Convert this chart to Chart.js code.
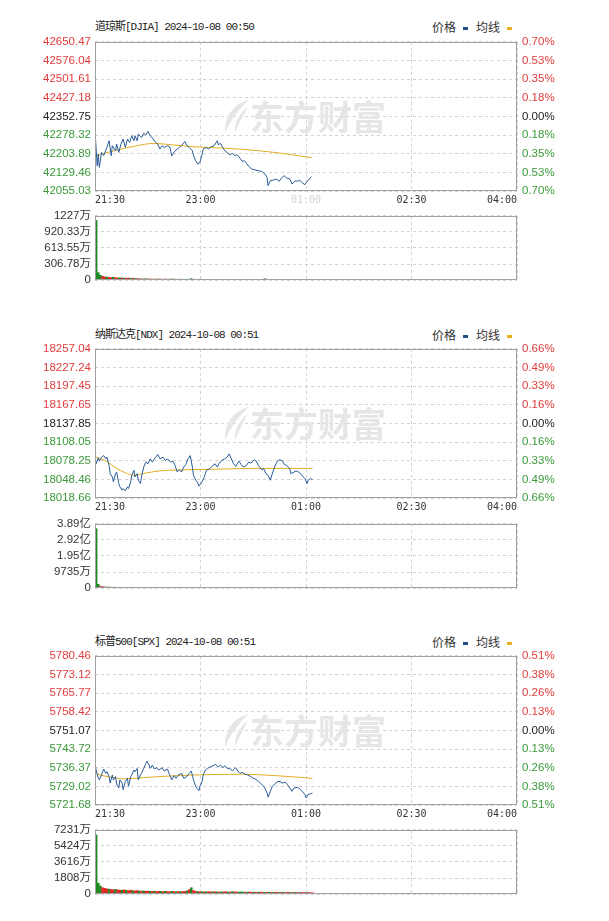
<!DOCTYPE html>
<html>
<head>
<meta charset="utf-8">
<script src="https://cdn.jsdelivr.net/npm/chart.js@4.4.1/dist/chart.umd.min.js"></script>
<style>
  body { margin: 0; background: #fff; width: 609px; height: 921px; position: relative; overflow: hidden; }
  canvas { position: absolute; left: 0; }
  .ttl { position: absolute; left: 95px; font: 11px "Liberation Mono", "Noto Sans CJK SC"; letter-spacing: -1px; color: #222; line-height: 14px; white-space: nowrap; }
  .lgd { position: absolute; right: 97px; font: 12px "Noto Sans CJK SC"; color: #333; line-height: 14px; white-space: nowrap; }
  .lgd i { display: inline-block; width: 5px; height: 3px; vertical-align: middle; margin: 0 8px 0 7px; }
  .lgd i.last { margin-right: 0; }
</style>
</head>
<body>

<div class="ttl" style="top:20px">道琼斯[DJIA] 2024-10-08 00:50</div>
<div class="lgd" style="top:20px">价格<i style="background:#1f4f86"></i>均线<i class="last" style="background:#e8b020"></i></div>
<canvas id="p1" width="609" height="181" style="top:30px"></canvas>
<canvas id="v1" width="609" height="86" style="top:205px"></canvas>

<div class="ttl" style="top:328px">纳斯达克[NDX] 2024-10-08 00:51</div>
<div class="lgd" style="top:328px">价格<i style="background:#1f4f86"></i>均线<i class="last" style="background:#e8b020"></i></div>
<canvas id="p2" width="609" height="181" style="top:337px"></canvas>
<canvas id="v2" width="609" height="86" style="top:513px"></canvas>

<div class="ttl" style="top:635px">标普500[SPX] 2024-10-08 00:51</div>
<div class="lgd" style="top:635px">价格<i style="background:#1f4f86"></i>均线<i class="last" style="background:#e8b020"></i></div>
<canvas id="p3" width="609" height="181" style="top:644px"></canvas>
<canvas id="v3" width="609" height="86" style="top:819px"></canvas>

<script>
// time axis: 390 trading minutes, 21:30 -> 04:00
const timeLabels = ["21:30", "23:00", "01:00", "02:30", "04:00"];
const timeTicks = [0, 97.5, 195, 292.5, 390];

// ---- 道琼斯 ----
const djiaMin = [0,2,3,4,6,8,11,13,15,16,19,20,22,24,26,28,30,32,34,36,37,39,40,43,45,47,49,51,53,56,58,60,62,64,67,69,71,74,76,78,80,83,85,87,90,91,93,95,97,99,100,103,105,107,110,113,114,116,118,120,123,125,127,129,131,133,136,138,140,143,145,148,151,154,157,159,160,162,165,168,170,173,175,177,180,182,185,187,189,191,194,196,198,200];
const djiaPrice = [42295.6,42156.0,42202.6,42149.4,42209.2,42195.9,42229.1,42255.7,42195.9,42235.8,42215.8,42242.4,42209.2,42242.4,42262.4,42229.1,42262.4,42249.1,42275.7,42255.7,42275.7,42255.7,42282.3,42269.0,42285.0,42279.6,42292.9,42275.7,42266.4,42249.1,42242.4,42222.5,42235.8,42229.1,42235.8,42231.8,42195.9,42215.8,42222.5,42229.1,42235.8,42253.1,42235.8,42229.1,42215.8,42195.9,42176.0,42162.7,42169.3,42202.6,42222.5,42229.1,42222.5,42231.8,42235.8,42255.7,42239.8,42245.1,42229.1,42215.8,42205.2,42199.9,42205.2,42195.9,42199.9,42191.9,42173.3,42176.0,42165.3,42149.4,42142.7,42138.8,42136.1,42133.5,42122.8,42109.5,42076.3,42096.2,42098.9,42102.9,42093.6,42109.5,42116.2,42106.9,42102.9,42082.9,42096.2,42093.6,42098.9,42089.6,42080.3,42093.6,42102.9,42112.2];
const djiaAvgMin = [1,6,15,28,40,54,70,90,120,151,182,200];
const djiaAvg = [42196,42203,42213,42226,42237,42245,42240,42232,42226,42216,42200,42188];
const djiaLeft = ["42055.03","42129.46","42203.89","42278.32","42352.75","42427.18","42501.61","42576.04","42650.47"];
const djiaRight = ["0.70%","0.53%","0.35%","0.18%","0.00%","0.18%","0.35%","0.53%","0.70%"];
const djiaVolMax = 1227;
const djiaVolLabels = ["0","306.78万","613.55万","920.33万","1227万"];
const djiaVol = [1140,142,92,72,62,58,52,48,55,46,42,44,40,38,35,40,32,35,30,28,25,24,22,26,20,22,18,20,19,21,18,17,20,16,18,22,17,16,15,18,16,15,17,14,28,16,15,14,17,13,15,14,16,13,14,15,13,12,14,13,15,14,13,12,14,12,13,15,12,11,13,12,14,11,12,13,12,11,26,14,12,11,13,12,11,12,10,13,11,12,11,10,12,11,13,10,11,12,10,11,9];
const djiaVolDir = "gggrrgrrgrrgrgrrgrgrrgrgrrgrgrgrrgrgggrgrrgrgrrgrgrgrrgrgrgrrgggrgrrgrrgrgrgrrgrgrrgrgrgrrgrgrrgrgrgr";

// ---- 纳斯达克 ----
const ndxMin = [0,1,3,4,6,8,10,11,13,14,16,17,19,20,22,23,25,26,28,30,31,33,34,36,37,39,40,42,43,45,47,49,51,53,56,58,60,63,65,67,70,72,74,76,78,80,82,84,86,88,90,91,93,95,96,99,101,103,106,108,111,113,115,117,120,122,124,126,128,130,133,135,137,140,142,144,147,149,151,154,156,158,160,162,164,166,168,170,173,175,177,180,181,184,186,188,190,192,194,196,197,199,201];
const ndxPrice = [18078.6,18073.4,18082.9,18077.6,18083.9,18086.5,18081.3,18083.9,18070.8,18057.6,18052.3,18044.4,18057.6,18060.2,18041.8,18036.6,18031.3,18033.9,18030.2,18036.6,18033.9,18044.4,18055.0,18062.9,18052.3,18057.6,18047.1,18041.8,18052.3,18068.1,18076.0,18073.4,18081.3,18076.0,18083.9,18088.1,18081.3,18083.9,18078.6,18081.3,18076.0,18077.6,18070.8,18060.2,18063.9,18060.2,18068.1,18072.3,18081.3,18086.5,18068.1,18055.0,18047.1,18042.9,18037.6,18044.4,18052.3,18062.9,18065.5,18069.2,18073.4,18068.1,18074.4,18078.6,18081.3,18083.9,18089.2,18081.3,18073.4,18069.2,18077.6,18072.3,18068.1,18070.8,18076.0,18074.4,18079.7,18077.6,18070.8,18063.9,18065.5,18057.6,18055.0,18047.1,18058.6,18068.1,18076.0,18079.7,18078.6,18072.3,18070.8,18065.5,18057.6,18060.2,18061.8,18060.2,18057.6,18053.4,18049.7,18041.8,18047.1,18049.7,18048.1];
const ndxAvgMin = [1,10,20,28,36,45,60,90,120,150,201];
const ndxAvg = [18084,18078,18066,18059,18055,18058,18062,18064,18065,18066,18066];
const ndxLeft = ["18018.66","18048.46","18078.25","18108.05","18137.85","18167.65","18197.45","18227.24","18257.04"];
const ndxRight = ["0.66%","0.49%","0.33%","0.16%","0.00%","0.16%","0.33%","0.49%","0.66%"];
const ndxVolMax = 38900;
const ndxVolLabels = ["0","9735万","1.95亿","2.92亿","3.89亿"];
const ndxVol = [36000,2290,1000,850,700,650,600,550,500,520,480,450,420,400,380,420,390,360,350,340,330,320,350,310,300,320,290,300,280,290,270,300,280,260,300,270,260,250,280,260,250,240,260,250,230,240,250,230,220,240,230,220,230,240,220,210,230,220,210,220,230,210,200,220,210,200,210,220,200,190,210,200,190,200,210,190,200,190,180,200,190,180,190,200,180,170,190,180,170,180,190,170,180,170,160,180,170,160,170,180,160];
const ndxVolDir = "ggrrgrgrrgrgrrgrgrgrrgrgrrgrgrgrrgrgrgrrgrgrgrrgrgrgrrgrgrrgrgrgrrgrgrrgrgrgrrgrgrrgrgrgrrgrgrrgrgrg";

// ---- 标普500 ----
const spxMin = [0,1,3,4,6,8,10,11,13,14,16,17,19,20,22,23,25,26,28,30,31,33,34,36,37,39,40,42,43,45,47,48,50,51,53,55,57,59,62,64,67,69,71,73,75,77,80,82,84,87,89,91,93,94,96,97,99,100,102,104,107,109,111,114,116,118,120,123,125,127,130,132,134,136,139,141,144,146,148,151,153,155,157,159,160,162,164,167,169,171,173,176,178,180,182,184,187,189,191,194,195,197,199,201];
const spxPrice = [5738.05,5735.47,5732.24,5731.60,5733.53,5735.85,5734.17,5734.82,5732.89,5730.31,5733.53,5731.60,5732.89,5729.92,5728.37,5731.60,5730.31,5727.73,5730.95,5732.24,5729.02,5732.89,5733.53,5735.47,5734.82,5736.11,5731.60,5733.53,5734.17,5736.11,5738.05,5738.95,5737.40,5736.11,5737.40,5735.85,5736.37,5735.47,5736.37,5735.08,5735.85,5733.53,5731.60,5733.27,5732.24,5733.53,5734.17,5732.24,5732.50,5734.17,5735.08,5731.60,5729.02,5728.37,5727.34,5729.02,5730.95,5733.53,5735.47,5736.11,5736.76,5737.14,5737.66,5736.76,5737.40,5736.37,5737.14,5735.85,5736.11,5735.08,5736.37,5735.08,5734.17,5734.56,5733.79,5733.53,5732.89,5732.24,5731.98,5730.95,5730.31,5729.40,5728.37,5726.44,5724.76,5727.08,5729.02,5730.31,5730.95,5730.95,5730.31,5730.69,5729.66,5728.37,5727.08,5728.37,5728.63,5728.11,5727.34,5725.79,5724.50,5725.79,5726.05,5726.31];
const spxAvgMin = [1,10,28,45,90,135,165,201];
const spxAvg = [5734.0,5733.0,5732.0,5732.5,5733.5,5733.8,5733.3,5732.2];
const spxLeft = ["5721.68","5729.02","5736.37","5743.72","5751.07","5758.42","5765.77","5773.12","5780.46"];
const spxRight = ["0.51%","0.38%","0.26%","0.13%","0.00%","0.13%","0.26%","0.38%","0.51%"];
const spxVolMax = 7231;
const spxVolLabels = ["0","1808万","3616万","5424万","7231万"];
const spxVol = [6674,1231,908,713,650,586,560,520,489,540,470,450,430,480,420,400,440,380,360,400,350,330,360,320,340,310,300,330,290,310,300,280,320,290,270,300,280,260,290,270,280,300,350,500,713,400,300,280,260,270,250,260,280,240,250,260,240,230,250,240,260,230,220,280,240,230,220,240,230,210,220,230,210,220,200,210,220,200,190,210,200,190,200,210,190,180,200,190,180,190,180,170,190,180,170,180,170,160,170,160,150];
const spxVolDir = "gggrrrgrrgrrgrgrrgrrgrgrrgrgrrgrgrrgrgrgrrgrgrrgrgrgrrgrgrgrrgrgrrgggrgrrgrgrrgrgrgrrgrgrrgrgrgrrgr";

const RED = "#e23c3c", GREEN = "#3a9a3a", DARK = "#222";
const GRID = "#d2d2d2", FRAME = "#a0a0a0";
const tickFont = { family: "'Liberation Sans', 'Noto Sans CJK SC'", size: 11.5 };
const timeFont = { family: "'DejaVu Sans Mono'", size: 10 };

function levelColor(i) {
  if (i < 4) return GREEN;
  if (i === 4) return DARK;
  return RED;
}

const framePlugin = {
  id: "frame",
  afterDatasetsDraw(chart) {
    const { ctx, chartArea: a } = chart;
    ctx.save();
    ctx.strokeStyle = FRAME;
    ctx.lineWidth = 1;
    ctx.strokeRect(Math.round(a.left) + 0.5, Math.round(a.top) + 0.5,
      Math.round(a.right - a.left) - 1, Math.round(a.bottom - a.top) - 1);
    ctx.restore();
  }
};

// faint site watermark in the middle of each price chart
const markPlugin = {
  id: "mark",
  beforeDatasetsDraw(chart) {
    const { ctx, chartArea: a } = chart;
    const cx = (a.left + a.right) / 2, cy = (a.top + a.bottom) / 2;
    ctx.save();
    ctx.fillStyle = "#e6e6e6";
    const lx = cx - 84, ty = cy - 17;
    ctx.beginPath();
    ctx.moveTo(lx + 27, ty);
    ctx.quadraticCurveTo(lx + 2, ty + 8, lx + 3, ty + 34);
    ctx.quadraticCurveTo(lx + 10, ty + 16, lx + 27, ty);
    ctx.fill();
    ctx.beginPath();
    ctx.moveTo(lx + 26, ty + 7);
    ctx.quadraticCurveTo(lx + 12, ty + 18, lx + 13, ty + 33);
    ctx.quadraticCurveTo(lx + 19, ty + 20, lx + 26, ty + 7);
    ctx.fill();
    ctx.font = "bold 34px 'Noto Sans CJK SC'";
    ctx.textAlign = "left";
    ctx.textBaseline = "middle";
    ctx.fillText("东方财富", cx - 56, cy + 1);
    ctx.restore();
  }
};

function xScale(showLabels, dimMid) {
  return {
    type: "linear", min: 0, max: 390, offset: false,
    afterBuildTicks: (s) => { s.ticks = timeTicks.map((v) => ({ value: v })); },
    afterFit: (s) => { s.height = showLabels ? 20 : 0; },
    ticks: {
      display: showLabels, autoSkip: false, maxRotation: 0, align: "inner", padding: 3,
      font: timeFont,
      color: (c) => (dimMid && c.index === 2 ? "#d4d4d4" : "#333"),
      callback: (v, i) => timeLabels[i]
    },
    grid: { color: GRID, drawTicks: false, offset: false },
    border: { display: false, dash: [3, 3] }
  };
}

function priceChart(id, mins, prices, avgMins, avgs, left, right, dimMid) {
  const lo = parseFloat(left[0]), hi = parseFloat(left[left.length - 1]);
  const vals = left.map(parseFloat);
  new Chart(document.getElementById(id), {
    type: "line",
    data: {
      datasets: [
        {
          data: mins.map((m, i) => ({ x: m, y: prices[i] })),
          borderColor: "#2b5c98", borderWidth: 1, pointRadius: 0, tension: 0
        },
        {
          data: avgMins.map((m, i) => ({ x: m, y: avgs[i] })),
          borderColor: "#e3ad22", borderWidth: 1, pointRadius: 0, cubicInterpolationMode: "monotone"
        }
      ]
    },
    options: {
      responsive: false, animation: false, events: [],
      layout: { padding: { top: 10, bottom: 0, left: 0, right: 0 } },
      plugins: { legend: { display: false }, tooltip: { enabled: false } },
      scales: {
        x: xScale(true, dimMid),
        y: {
          position: "left", min: lo, max: hi,
          afterBuildTicks: (s) => { s.ticks = vals.map((v) => ({ value: v })); },
          afterFit: (s) => { s.width = 95; },
          ticks: { autoSkip: false, padding: 4, font: tickFont, color: (c) => levelColor(c.index), callback: (v, i) => left[i] },
          grid: { color: GRID, drawTicks: false },
          border: { display: false, dash: [3, 3] }
        },
        y2: {
          position: "right", min: lo, max: hi,
          afterBuildTicks: (s) => { s.ticks = vals.map((v) => ({ value: v })); },
          afterFit: (s) => { s.width = 92; },
          ticks: { autoSkip: false, padding: 5, font: tickFont, color: (c) => levelColor(c.index), callback: (v, i) => right[i] },
          grid: { drawOnChartArea: false, drawTicks: false },
          border: { display: false }
        }
      }
    },
    plugins: [markPlugin, framePlugin]
  });
}

function volumeChart(id, vols, dirs, vmax, labels) {
  const steps = [0, vmax / 4, vmax / 2, vmax * 3 / 4, vmax];
  new Chart(document.getElementById(id), {
    type: "bar",
    data: {
      datasets: [{
        // each bar covers a two-minute slot, centred inside it
        data: vols.map((v, i) => ({ x: i * 2 + 1, y: v })),
        backgroundColor: vols.map((v, i) => (dirs[i] === "g" ? "#1f8a1f" : "#e02a2a")),
        borderWidth: 0, barThickness: 2
      }]
    },
    options: {
      responsive: false, animation: false, events: [],
      layout: { padding: { top: 10, bottom: 2, left: 0, right: 92 } },
      plugins: { legend: { display: false }, tooltip: { enabled: false } },
      scales: {
        x: xScale(false, false),
        y: {
          position: "left", min: 0, max: vmax,
          afterBuildTicks: (s) => { s.ticks = steps.map((v) => ({ value: v })); },
          afterFit: (s) => { s.width = 95; },
          ticks: { autoSkip: false, padding: 4, font: tickFont, color: "#333", callback: (v, i) => labels[i] },
          grid: { color: GRID, drawTicks: false },
          border: { display: false, dash: [3, 3] }
        }
      }
    },
    plugins: [framePlugin]
  });
}

priceChart("p1", djiaMin, djiaPrice, djiaAvgMin, djiaAvg, djiaLeft, djiaRight, true);
volumeChart("v1", djiaVol, djiaVolDir, djiaVolMax, djiaVolLabels);
priceChart("p2", ndxMin, ndxPrice, ndxAvgMin, ndxAvg, ndxLeft, ndxRight, false);
volumeChart("v2", ndxVol, ndxVolDir, ndxVolMax, ndxVolLabels);
priceChart("p3", spxMin, spxPrice, spxAvgMin, spxAvg, spxLeft, spxRight, false);
volumeChart("v3", spxVol, spxVolDir, spxVolMax, spxVolLabels);
</script>
</body>
</html>
